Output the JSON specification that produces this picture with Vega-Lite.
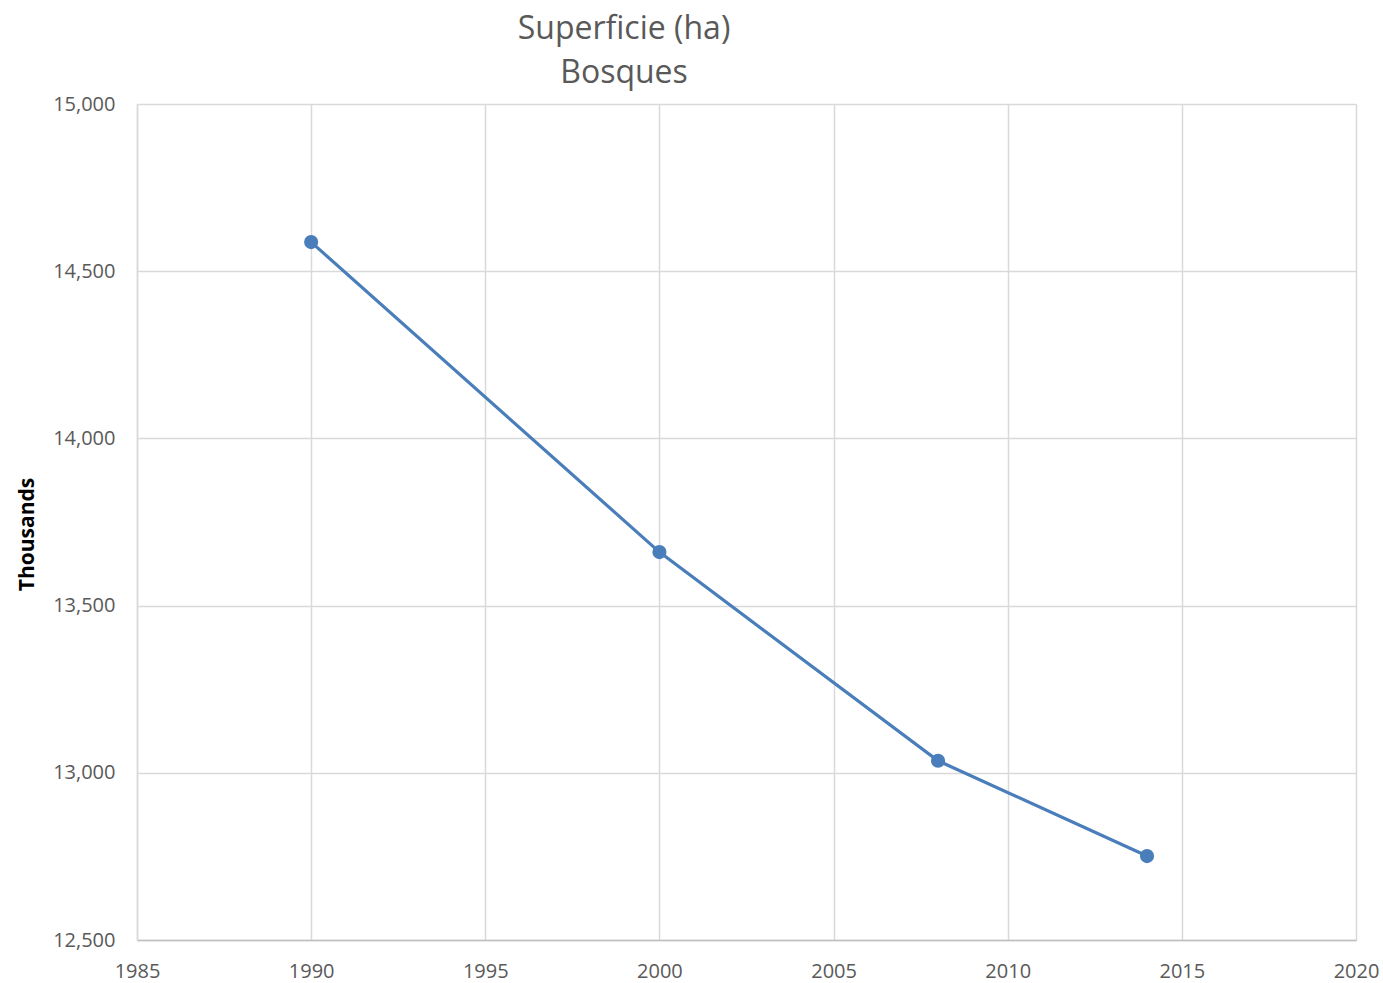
{
  "$schema": "https://vega.github.io/schema/vega-lite/v6.json",
  "autosize": "none",
  "width": 1219,
  "height": 836,
  "padding": {"left": 137, "top": 104, "right": 27, "bottom": 43},
  "background": "white",
  "title": {
    "text": ["Superficie (ha)", "Bosques"],
    "anchor": "start",
    "dx": 487,
    "offset": 4,
    "font": "Open Sans",
    "fontSize": 32,
    "fontWeight": "normal",
    "color": "#595959",
    "lineHeight": 44,
    "align": "center",
    "frame": "group"
  },
  "config": {
    "view": {"stroke": null},
    "axis": {
      "labelFont": "Open Sans",
      "labelFontSize": 20,
      "labelColor": "#595959",
      "gridColor": "#d9d9d9",
      "gridWidth": 1.5,
      "domainColor": "#d9d9d9",
      "domainWidth": 1.5,
      "ticks": false
    }
  },
  "data": {
    "values": [
      {"year": 1990, "value": 14587},
      {"year": 2000, "value": 13660},
      {"year": 2008, "value": 13036},
      {"year": 2014, "value": 12751}
    ]
  },
  "layer": [
    {
      "mark": {"type": "line", "color": "#4a7ebb", "strokeWidth": 3.2},
      "encoding": {
        "x": {
          "field": "year", "type": "quantitative",
          "scale": {"domain": [1985, 2020], "nice": false, "zero": false},
          "axis": {"title": null, "values": [1985, 1990, 1995, 2000, 2005, 2010, 2015, 2020], "format": "d", "labelPadding": 21, "domainColor": "#bfbfbf", "labelFlush": false}
        },
        "y": {
          "field": "value", "type": "quantitative",
          "scale": {"domain": [12500, 15000], "nice": false, "zero": false},
          "axis": {
            "title": "Thousands",
            "titleFont": "Open Sans",
            "titleFontSize": 21,
            "titleFontWeight": "bold",
            "titleColor": "#000000",
            "titlePadding": 15,
            "titleY": 430,
            "values": [12500, 13000, 13500, 14000, 14500, 15000],
            "format": ",.0f",
            "labelPadding": 22,
            "labelFlush": false
          }
        }
      }
    },
    {
      "mark": {"type": "point", "filled": true, "color": "#4a7ebb", "size": 200, "opacity": 1},
      "encoding": {
        "x": {"field": "year", "type": "quantitative"},
        "y": {"field": "value", "type": "quantitative"}
      }
    }
  ]
}
